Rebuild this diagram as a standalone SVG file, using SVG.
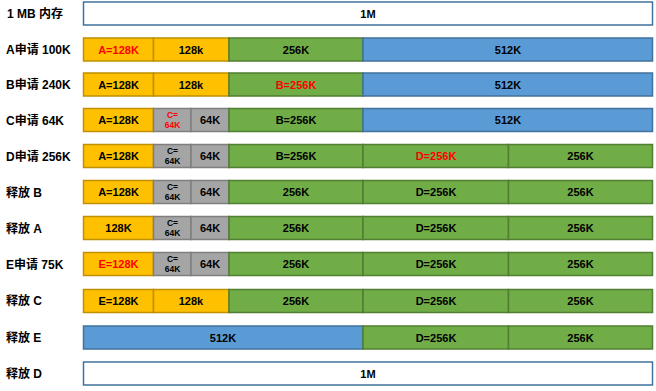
<svg xmlns="http://www.w3.org/2000/svg" width="656" height="391" viewBox="0 0 656 391">
<style>
.w{fill:#fff;stroke:#41719c;stroke-width:1.5}
.y{fill:#ffc000;stroke:#bf9000;stroke-width:1.5}
.g{fill:#70ad47;stroke:#507e32;stroke-width:1.5}
.b{fill:#5b9bd5;stroke:#41719c;stroke-width:1.5}
.s{fill:#a5a5a5;stroke:#7f7f7f;stroke-width:1.5}
text{font-family:"Liberation Sans","Noto Sans CJK SC",sans-serif;font-weight:bold;fill:#000}
.t{font-size:11px;text-anchor:middle}
.sm{font-size:8.5px;text-anchor:middle}
.l{font-size:12px}
.r{fill:#ff0000}
</style>
<g id="labels">
<text class="l" x="7" y="18">1 MB 内存</text>
<text class="l" x="6" y="54">A申请 100K</text>
<text class="l" x="6" y="89">B申请 240K</text>
<text class="l" x="6" y="125">C申请 64K</text>
<text class="l" x="6" y="161">D申请 256K</text>
<text class="l" x="6" y="197">释放 B</text>
<text class="l" x="6" y="233">释放 A</text>
<text class="l" x="6" y="269">E申请 75K</text>
<text class="l" x="6" y="305">释放 C</text>
<text class="l" x="6" y="342">释放 E</text>
<text class="l" x="6" y="378">释放 D</text>
</g>
<g id="row0">
<rect class="w" x="83.5" y="2" width="569" height="23"/>
<text class="t" x="368" y="17.5">1M</text>
</g>
<g id="row1">
<rect class="y" x="83.5" y="38" width="70" height="23"/>
<rect class="y" x="153.5" y="38" width="75.5" height="23"/>
<rect class="g" x="229" y="38" width="134" height="23"/>
<rect class="b" x="363" y="38" width="289.5" height="23"/>
<text class="t r" x="118.5" y="53.5">A=128K</text>
<text class="t" x="191" y="53.5">128k</text>
<text class="t" x="296" y="53.5">256K</text>
<text class="t" x="508" y="53.5">512K</text>
</g>
<g id="row2">
<rect class="y" x="83.5" y="73" width="70" height="23"/>
<rect class="y" x="153.5" y="73" width="75.5" height="23"/>
<rect class="g" x="229" y="73" width="134" height="23"/>
<rect class="b" x="363" y="73" width="289.5" height="23"/>
<text class="t" x="118.5" y="88.5">A=128K</text>
<text class="t" x="191" y="88.5">128k</text>
<text class="t r" x="296" y="88.5">B=256K</text>
<text class="t" x="508" y="88.5">512K</text>
</g>
<g id="row3">
<rect class="y" x="83.5" y="108.5" width="70" height="23"/>
<rect class="s" x="153.5" y="108.5" width="37.5" height="23"/>
<rect class="s" x="191" y="108.5" width="38" height="23"/>
<rect class="g" x="229" y="108.5" width="134" height="23"/>
<rect class="b" x="363" y="108.5" width="289.5" height="23"/>
<text class="t" x="118.5" y="124">A=128K</text>
<text class="sm r" x="172.5" y="118">C=</text>
<text class="sm r" x="172.5" y="127.5">64K</text>
<text class="t" x="210" y="124">64K</text>
<text class="t" x="296" y="124">B=256K</text>
<text class="t" x="508" y="124">512K</text>
</g>
<g id="row4">
<rect class="y" x="83.5" y="144.5" width="70" height="23"/>
<rect class="s" x="153.5" y="144.5" width="37.5" height="23"/>
<rect class="s" x="191" y="144.5" width="38" height="23"/>
<rect class="g" x="229" y="144.5" width="134" height="23"/>
<rect class="g" x="363" y="144.5" width="145.5" height="23"/>
<rect class="g" x="508.5" y="144.5" width="144" height="23"/>
<text class="t" x="118.5" y="160">A=128K</text>
<text class="sm" x="172.5" y="154">C=</text>
<text class="sm" x="172.5" y="163.5">64K</text>
<text class="t" x="210" y="160">64K</text>
<text class="t" x="296" y="160">B=256K</text>
<text class="t r" x="436" y="160">D=256K</text>
<text class="t" x="580.5" y="160">256K</text>
</g>
<g id="row5">
<rect class="y" x="83.5" y="180.5" width="70" height="23"/>
<rect class="s" x="153.5" y="180.5" width="37.5" height="23"/>
<rect class="s" x="191" y="180.5" width="38" height="23"/>
<rect class="g" x="229" y="180.5" width="134" height="23"/>
<rect class="g" x="363" y="180.5" width="145.5" height="23"/>
<rect class="g" x="508.5" y="180.5" width="144" height="23"/>
<text class="t" x="118.5" y="196">A=128K</text>
<text class="sm" x="172.5" y="190">C=</text>
<text class="sm" x="172.5" y="199.5">64K</text>
<text class="t" x="210" y="196">64K</text>
<text class="t" x="296" y="196">256K</text>
<text class="t" x="436" y="196">D=256K</text>
<text class="t" x="580.5" y="196">256K</text>
</g>
<g id="row6">
<rect class="y" x="83.5" y="216.5" width="70" height="23"/>
<rect class="s" x="153.5" y="216.5" width="37.5" height="23"/>
<rect class="s" x="191" y="216.5" width="38" height="23"/>
<rect class="g" x="229" y="216.5" width="134" height="23"/>
<rect class="g" x="363" y="216.5" width="145.5" height="23"/>
<rect class="g" x="508.5" y="216.5" width="144" height="23"/>
<text class="t" x="118.5" y="232">128K</text>
<text class="sm" x="172.5" y="226">C=</text>
<text class="sm" x="172.5" y="235.5">64K</text>
<text class="t" x="210" y="232">64K</text>
<text class="t" x="296" y="232">256K</text>
<text class="t" x="436" y="232">D=256K</text>
<text class="t" x="580.5" y="232">256K</text>
</g>
<g id="row7">
<rect class="y" x="83.5" y="252.5" width="70" height="23"/>
<rect class="s" x="153.5" y="252.5" width="37.5" height="23"/>
<rect class="s" x="191" y="252.5" width="38" height="23"/>
<rect class="g" x="229" y="252.5" width="134" height="23"/>
<rect class="g" x="363" y="252.5" width="145.5" height="23"/>
<rect class="g" x="508.5" y="252.5" width="144" height="23"/>
<text class="t r" x="118.5" y="268">E=128K</text>
<text class="sm" x="172.5" y="262">C=</text>
<text class="sm" x="172.5" y="271.5">64K</text>
<text class="t" x="210" y="268">64K</text>
<text class="t" x="296" y="268">256K</text>
<text class="t" x="436" y="268">D=256K</text>
<text class="t" x="580.5" y="268">256K</text>
</g>
<g id="row8">
<rect class="y" x="83.5" y="289.5" width="70" height="23"/>
<rect class="y" x="153.5" y="289.5" width="75.5" height="23"/>
<rect class="g" x="229" y="289.5" width="134" height="23"/>
<rect class="g" x="363" y="289.5" width="145.5" height="23"/>
<rect class="g" x="508.5" y="289.5" width="144" height="23"/>
<text class="t" x="118.5" y="305">E=128K</text>
<text class="t" x="191" y="305">128k</text>
<text class="t" x="296" y="305">256K</text>
<text class="t" x="436" y="305">D=256K</text>
<text class="t" x="580.5" y="305">256K</text>
</g>
<g id="row9">
<rect class="b" x="83.5" y="326" width="279.5" height="23"/>
<rect class="g" x="363" y="326" width="145.5" height="23"/>
<rect class="g" x="508.5" y="326" width="144" height="23"/>
<text class="t" x="223" y="341.5">512K</text>
<text class="t" x="436" y="341.5">D=256K</text>
<text class="t" x="580.5" y="341.5">256K</text>
</g>
<g id="row10">
<rect class="w" x="83.5" y="362" width="569" height="23"/>
<text class="t" x="368" y="377.5">1M</text>
</g>
<g id="connectors"/>
</svg>
